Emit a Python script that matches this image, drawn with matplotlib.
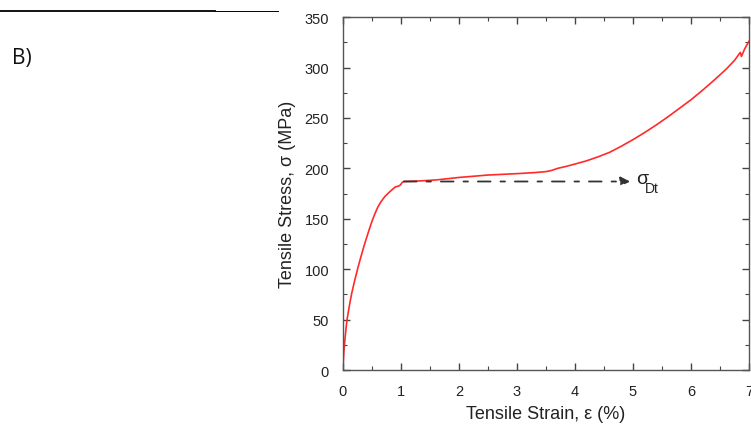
import matplotlib

matplotlib.use("Agg")
import matplotlib.pyplot as plt
from matplotlib.lines import Line2D
from matplotlib.ticker import MultipleLocator

# stress-strain curve
strain = [0.0, 0.005, 0.015, 0.03, 0.05, 0.07, 0.09, 0.12, 0.15, 0.20, 0.26,
          0.30, 0.35, 0.40, 0.45, 0.50, 0.55, 0.60, 0.65, 0.72, 0.80, 0.86,
          0.90, 0.93, 0.96, 0.99, 1.02, 1.05, 1.3, 1.6, 2.0, 2.5, 3.0, 3.3, 3.5,
          3.6, 3.7, 3.85, 4.0, 4.2, 4.4, 4.6, 4.8, 5.0, 5.2, 5.4, 5.6, 5.8,
          6.0, 6.2, 6.4, 6.6, 6.75, 6.85, 6.87, 6.93, 7.0]
stress = [0.0, 8, 18, 28, 40, 50, 57, 67, 76, 88.5, 102,
          110.5, 120.5, 130, 139, 147.5, 155, 161.5, 166.5, 172, 176.5, 179.5,
          181.5, 182, 182.5, 183.5, 186, 187, 187.5, 188.5, 191, 193.4, 194.8, 195.8, 196.8,
          198, 200, 202, 204.3, 207.5, 211.5, 216, 222, 228.5, 235.5, 243, 251, 259.5,
          268, 277.5, 287.5, 298, 307, 315, 311, 319, 326]

# dashed marker for the plateau stress
plateau_x = [1.05, 4.95]
plateau_y = 187
plateau_sym = "σ"
plateau_sub = "Dt"

fig = plt.figure(figsize=(7.51, 4.31), dpi=100)
ax = fig.add_axes([0.4567, 0.139, 0.5406, 0.819])

ax.plot(strain, stress, color="#ff2a2a", linewidth=1.2)
ax.annotate("", xy=(plateau_x[1], plateau_y), xytext=(plateau_x[0], plateau_y),
            arrowprops=dict(arrowstyle="-|>", color="#333333", lw=1.3,
                            linestyle=(0, (7, 5.5, 2.5, 5.5)), shrinkA=0, shrinkB=0,
                            mutation_scale=14))
ax.annotate(plateau_sym, (plateau_x[1], plateau_y), xytext=(4, 2),
            textcoords="offset points", fontsize=14, va="center", ha="left",
            family="Liberation Sans", color="#222222")
ax.annotate(plateau_sub, (plateau_x[1], plateau_y), xytext=(11, -5),
            textcoords="offset points", fontsize=10, va="center", ha="left",
            family="Liberation Sans", color="#222222")

ax.set_xlim(0, 7)
ax.set_ylim(0, 350)
ax.xaxis.set_major_locator(MultipleLocator(1))
ax.xaxis.set_minor_locator(MultipleLocator(0.5))
ax.yaxis.set_major_locator(MultipleLocator(50))
ax.yaxis.set_minor_locator(MultipleLocator(25))
ax.tick_params(which="both", direction="in", top=True, right=True,
               color="#444444", labelsize=10.5, labelcolor="#222222")
ax.tick_params(which="major", length=5, width=1, pad=10)
ax.tick_params(which="minor", length=3, width=0.8)
for tl in ax.get_xticklabels() + ax.get_yticklabels():
    tl.set_family("Liberation Sans")
for s in ax.spines.values():
    s.set_color("#555555")
    s.set_linewidth(1.0)

ax.set_xlabel("Tensile Strain, ε (%)", fontsize=13, family="Liberation Sans",
              color="#222222", labelpad=5)
ax.set_ylabel("Tensile Stress, σ (MPa)", fontsize=13, family="Liberation Sans",
              color="#222222", labelpad=6)

# page decorations
fig.add_artist(Line2D([0.0, 0.286], [0.973, 0.973], color="black", lw=1.3))
fig.add_artist(Line2D([0.286, 0.370], [0.973, 0.973], color="black", lw=0.7))
fig.text(0.016, 0.865, "B)", fontsize=15, family="Open Sans", color="#111111",
         va="center", ha="left")

fig.savefig("out.png", dpi=100)
